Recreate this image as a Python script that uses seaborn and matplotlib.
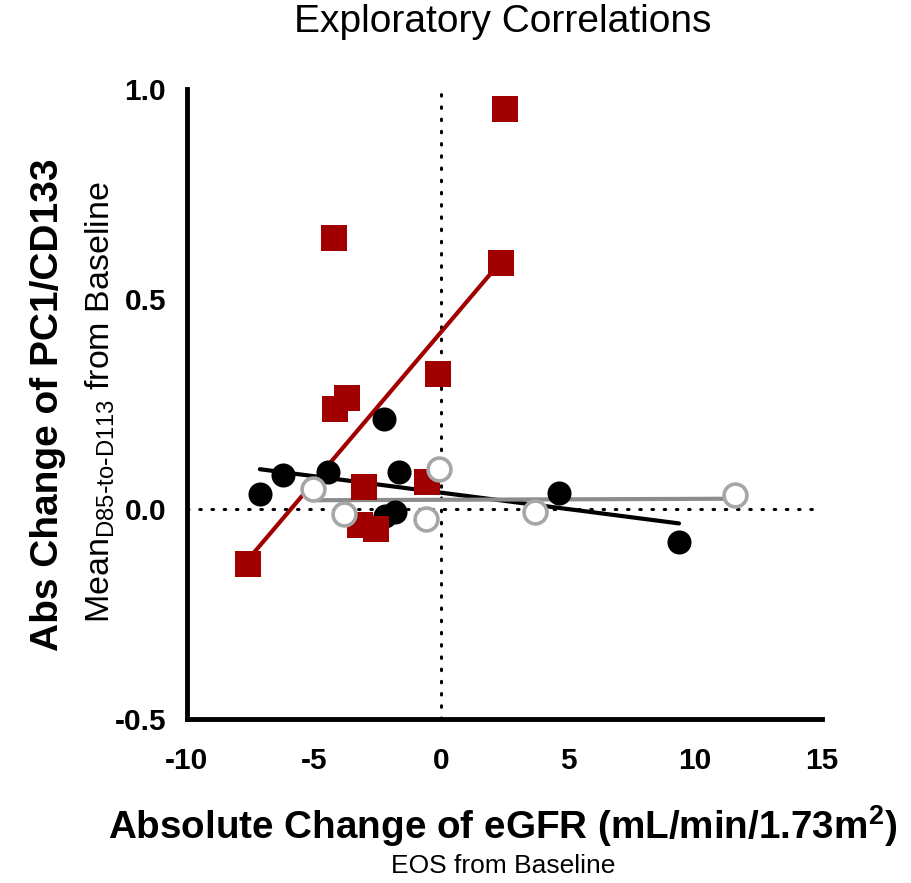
import numpy as np
import pandas as pd
import matplotlib
matplotlib.use("Agg")
import matplotlib.pyplot as plt
import seaborn as sns

# ---- data ----
black_x = [-7.13, -6.22, -4.45, -2.24, -1.65, -2.20, -1.81, 4.65, 9.37]
black_y = [0.036, 0.081, 0.088, 0.214, 0.088, -0.017, -0.007, 0.038, -0.079]

red_x = [2.52, -4.21, 2.36, -0.10, -4.17, -3.70, -3.03, -0.55, -3.19, -2.56, -7.60]
red_y = [0.952, 0.645, 0.586, 0.321, 0.238, 0.264, 0.052, 0.064, -0.038, -0.048, -0.131]

open_x = [-5.04, -3.82, -0.08, -0.59, 3.70, 11.57]
open_y = [0.048, -0.012, 0.095, -0.024, -0.007, 0.033]

x_ticks = [-10, -5, 0, 5, 10, 15]
x_ticklabels = ["-10", "-5", "0", "5", "10", "15"]
y_ticks = [-0.5, 0.0, 0.5, 1.0]
y_ticklabels = ["-0.5", "0.0", "0.5", "1.0"]

title = "Exploratory Correlations"
xlabel_main = r"Absolute Change of eGFR (mL/min/1.73m$^{2}$)"
xlabel_sub = "EOS from Baseline"
ylabel_main = "Abs Change of PC1/CD133"
ylabel_sub = r"Mean$_{\mathregular{D85\text{-}to\text{-}D113}}$ from Baseline"

sns.set_style("white")
plt.rcParams["font.family"] = ["Liberation Sans", "DejaVu Sans"]
plt.rcParams["mathtext.default"] = "regular"
plt.rcParams["text.color"] = "black"

RED = "#A00000"
GRAY_RING = "#A6A6A6"
GRAY_LINE = "#8C8C8C"

fig = plt.figure(figsize=(9.12, 8.83), dpi=100)
ax = fig.add_axes([187 / 912, 1 - 719 / 883, (822 - 187) / 912, (719 - 89) / 883])

# reference lines
ax.axvline(0, color="black", lw=2.2, linestyle=(0, (0.5, 3.5)), dash_capstyle="round", zorder=1)
ax.axhline(0, color="black", lw=2.2, linestyle=(0, (0.5, 3.5)), dash_capstyle="round", zorder=1)

df_b = pd.DataFrame({"x": black_x, "y": black_y})
df_r = pd.DataFrame({"x": red_x, "y": red_y})
df_o = pd.DataFrame({"x": open_x, "y": open_y})

sns.regplot(data=df_b, x="x", y="y", ax=ax, ci=None, truncate=True, marker="o",
            scatter_kws=dict(s=300, color="black", linewidths=0, alpha=1, zorder=4),
            line_kws=dict(color="black", lw=3, zorder=2))
sns.regplot(data=df_r, x="x", y="y", ax=ax, ci=None, truncate=True, marker="s",
            scatter_kws=dict(s=330, color=RED, linewidths=0, alpha=1, zorder=4),
            line_kws=dict(color=RED, lw=3, zorder=2))
sns.regplot(data=df_o, x="x", y="y", ax=ax, ci=None, truncate=True, marker="o",
            scatter_kws=dict(s=270, facecolors="white", edgecolors=GRAY_RING, linewidths=2.6,
                             alpha=1, zorder=5),
            line_kws=dict(color=GRAY_LINE, lw=3, zorder=2))

ax.set_xlim(-10, 15)
ax.set_ylim(-0.5, 1.0)
ax.set_xticks(x_ticks)
ax.set_xticklabels(x_ticklabels)
ax.set_yticks(y_ticks)
ax.set_yticklabels(y_ticklabels)
ax.set_xlabel("")
ax.set_ylabel("")

for side in ["top", "right"]:
    ax.spines[side].set_visible(False)
for side in ["left", "bottom"]:
    ax.spines[side].set_linewidth(3.5)
    ax.spines[side].set_color("black")
ax.tick_params(axis="both", which="major", direction="out", length=10, width=3.5,
               colors="black", labelsize=21.5)
ax.tick_params(axis="x", pad=10)
ax.tick_params(axis="y", pad=5)
for lab in ax.get_xticklabels() + ax.get_yticklabels():
    lab.set_fontweight("bold")
    lab.set_color("black")

fig.text(503 / 912, 1 - 22 / 883, title, ha="center", va="center", fontsize=28, color="black")
fig.text(503 / 912, 1 - 826 / 883, xlabel_main, ha="center", va="center", fontsize=27.8,
         fontweight="bold", color="black")
fig.text(503 / 912, 1 - 866 / 883, xlabel_sub, ha="center", va="center", fontsize=19, color="black")
fig.text(48 / 912, 1 - 405 / 883, ylabel_main, ha="center", va="center", rotation=90,
         fontsize=28, fontweight="bold", color="black")
fig.text(100 / 912, 1 - 402 / 883, ylabel_sub, ha="center", va="center", rotation=90,
         fontsize=24.5, color="black")

fig.savefig("out.png", dpi=100)
